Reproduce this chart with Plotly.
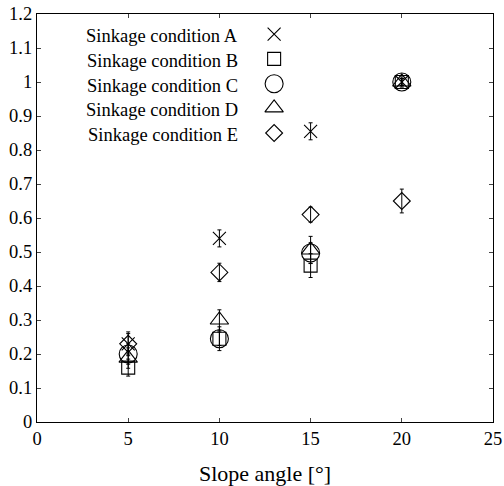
import plotly.graph_objects as go

slope = [5, 10, 15, 20]
cond_names = ["Sinkage condition A", "Sinkage condition B", "Sinkage condition C",
              "Sinkage condition D", "Sinkage condition E"]
val_A = [0.23, 0.54, 0.855, 1.0]
err_A = [0.035, 0.025, 0.025, 0.01]
val_B = [0.16, 0.245, 0.46, 1.0]
err_B = [0.025, 0.02, 0.035, 0.01]
val_C = [0.20, 0.245, 0.497, 1.0]
err_C = [0.03, 0.035, 0.03, 0.01]
val_D = [0.188, 0.30, 0.506, 1.0]
err_D = [0.03, 0.03, 0.04, 0.015]
val_E = [0.23, 0.44, 0.61, 0.65]
err_E = [0.03, 0.027, 0.022, 0.035]
x_ticks = [0, 5, 10, 15, 20, 25]
y_ticks = [0, 0.1, 0.2, 0.3, 0.4, 0.5, 0.6, 0.7, 0.8, 0.9, 1.0, 1.1, 1.2]
y_tick_text = ["0", "0.1", "0.2", "0.3", "0.4", "0.5", "0.6", "0.7", "0.8", "0.9", "1", "1.1", "1.2"]

# legend layout (data coordinates)
legend_marker_x = 13
legend_text_x = 11.15
legend_y = [1.141, 1.068, 0.995, 0.924, 0.85]

symbols = ["x-thin-open", "square-open", "circle-open", "triangle-up-open", "diamond-open"]
sizes = [13, 13, 18, 16, 13]
vals = [val_A, val_B, val_C, val_D, val_E]
errs = [err_A, err_B, err_C, err_D, err_E]

FONT = "'Liberation Serif', 'Times New Roman', serif"
fig = go.Figure()
for name, v, e, s, sz in zip(cond_names, vals, errs, symbols, sizes):
    fig.add_trace(go.Scatter(
        x=slope, y=v, mode="markers", name=name, showlegend=False,
        marker=dict(symbol=s, size=sz, color="black", line=dict(color="black", width=1.1)),
        error_y=dict(type="data", array=e, visible=True, color="black", thickness=1, width=2),
        cliponaxis=False,
    ))

for name, ly, s, sz in zip(cond_names, legend_y, symbols, sizes):
    fig.add_trace(go.Scatter(
        x=[legend_marker_x], y=[ly], mode="markers", showlegend=False, hoverinfo="skip",
        marker=dict(symbol=s, size=sz, color="black", line=dict(color="black", width=1.1)),
    ))
    fig.add_annotation(x=legend_text_x, y=ly, text=name, showarrow=False,
                       xanchor="right", yanchor="middle", yshift=-2,
                       font=dict(family=FONT, size=18.5, color="black"))

fig.update_layout(
    width=504, height=486,
    margin=dict(l=37, r=11, t=14, b=64),
    plot_bgcolor="white", paper_bgcolor="white",
    font=dict(family=FONT, size=18.5, color="black"),
    xaxis=dict(range=[0, 25], tickvals=x_ticks, ticks="inside", ticklen=4,
               tickfont=dict(family=FONT, size=18.5), automargin=False,
               showline=True, linecolor="black", linewidth=1.2, mirror="allticks",
               showgrid=False, zeroline=False,
               title=dict(text="Slope angle [°]", font=dict(family=FONT, size=22), standoff=18)),
    yaxis=dict(range=[0, 1.2], tickvals=y_ticks, ticktext=y_tick_text, ticks="inside", ticklen=4,
               tickfont=dict(family=FONT, size=18.5), automargin=False,
               showline=True, linecolor="black", linewidth=1.2, mirror="allticks",
               showgrid=False, zeroline=False),
)

fig.write_html("out.html")
